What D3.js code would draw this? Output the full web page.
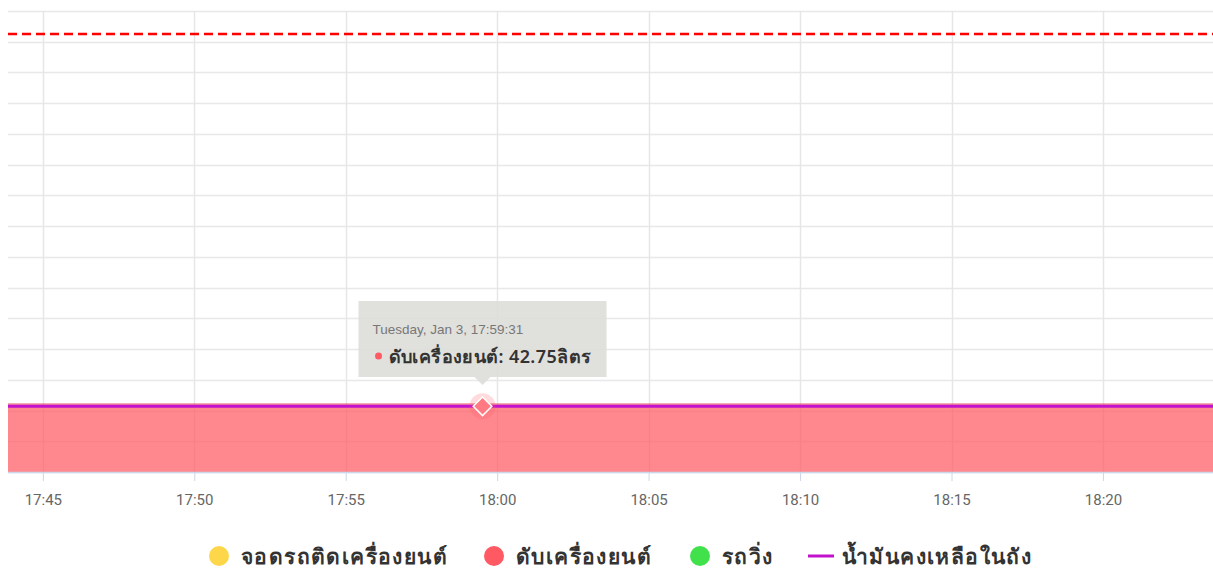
<!DOCTYPE html>
<html>
<head>
<meta charset="utf-8">
<script src="https://cdn.jsdelivr.net/npm/d3@7"></script>
<style>
  body { margin: 0; background: #fff; }
  svg { display: block; font-family: "Noto Sans", "DejaVu Sans", sans-serif; }
  .axis-x text { font-family: "Liberation Sans Narrow", "Roboto", sans-serif; font-size: 15px; fill: #666; }
</style>
</head>
<body>
<div id="chart"></div>
<script>
// data
var times = ["17:43:51", "17:59:31", "18:23:38"];
var engineOff = [42.75, 42.75, 42.75];   // ดับเครื่องยนต์ (area)
var fuelLeft = [42.75, 42.75, 42.75];    // น้ำมันคงเหลือในถัง (line)
var tankLimit = 285;
var yTicks = d3.range(0, 301, 20);
var hoverIndex = 1;
var tooltipTitle = "Tuesday, Jan 3, 17:59:31";
var tooltipText = "ดับเครื่องยนต์: 42.75ลิตร";
var legendNames = ["จอดรถติดเครื่องยนต์", "ดับเครื่องยนต์", "รถวิ่ง", "น้ำมันคงเหลือในถัง"];
var legendColors = ["#fdd64a", "#ff5a64", "#41e14c", "#c212cc"];

var W = 1213, H = 571;
var parse = d3.timeParse("%H:%M:%S");
var data = times.map(function(t, i) {
  return { t: parse(t), off: engineOff[i], fuel: fuelLeft[i] };
});

var svg = d3.select("#chart").append("svg").attr("width", W).attr("height", H);

var x = d3.scaleTime().domain(d3.extent(data, function(d) { return d.t; })).range([8, W]);
var y = d3.scaleLinear().domain([0, 300]).range([472, 11]);

// horizontal grid
svg.append("g").selectAll("line").data(yTicks).enter().append("line")
  .attr("x1", 8).attr("x2", W)
  .attr("y1", function(d) { return Math.round(y(d)) + 0.5; })
  .attr("y2", function(d) { return Math.round(y(d)) + 0.5; })
  .style("stroke", "#e8e8e8").style("stroke-width", 1.5);

// vertical grid
var xTicks = x.ticks(d3.timeMinute.every(5));
svg.append("g").selectAll("line").data(xTicks).enter().append("line")
  .attr("x1", function(d) { return Math.round(x(d)) + 0.5; })
  .attr("x2", function(d) { return Math.round(x(d)) + 0.5; })
  .attr("y1", 11).attr("y2", 472)
  .style("stroke", "#e6e6e6").style("stroke-width", 1.5);

// tank limit
svg.append("line")
  .attr("x1", 8).attr("x2", W)
  .attr("y1", y(tankLimit)).attr("y2", y(tankLimit))
  .style("stroke", "#ff0000").style("stroke-width", 2.5)
  .style("stroke-dasharray", "9,5");

// engine off area
var area = d3.area()
  .x(function(d) { return x(d.t); })
  .y0(y(0))
  .y1(function(d) { return y(d.off); });
svg.append("path").datum(data).attr("d", area)
  .style("fill", "#ff5a64").style("fill-opacity", 0.72);
svg.append("path").datum(data)
  .attr("d", d3.line().x(function(d) { return x(d.t); }).y(function(d) { return y(d.off) - 2; }))
  .style("fill", "none").style("stroke", "#e8485a").style("stroke-width", 2).style("opacity", 0.6);

// fuel line
svg.append("path").datum(data)
  .attr("d", d3.line().x(function(d) { return x(d.t); }).y(function(d) { return y(d.fuel); }))
  .style("fill", "none").style("stroke", legendColors[3]).style("stroke-width", 3);

// x axis
var xAxis = svg.append("g").attr("class", "axis-x")
  .attr("transform", "translate(0,472)")
  .call(d3.axisBottom(x).ticks(d3.timeMinute.every(5)).tickFormat(d3.timeFormat("%H:%M")).tickSize(9).tickPadding(13));
xAxis.select(".domain").attr("d", "M8,0.5H" + W).style("stroke", "#ccd6eb").style("stroke-width", 1.5);
xAxis.selectAll(".tick line").style("stroke", "#ccd6eb");

// hovered point
var hp = data[hoverIndex];
var px = x(hp.t), py = y(hp.off);
svg.append("circle").attr("cx", px).attr("cy", py).attr("r", 13)
  .style("fill", "#ff5a64").style("opacity", 0.22);
svg.append("path")
  .attr("d", d3.symbol().type(d3.symbolDiamond2).size(220)())
  .attr("transform", "translate(" + px + "," + py + ")")
  .style("fill", "#ff7a82").style("stroke", "#fff").style("stroke-width", 1.5);

// tooltip
var tip = svg.append("g").attr("transform", "translate(" + (px - 124) + ",301)");
tip.append("path")
  .attr("d", "M0,0H248V76H132L124,84L116,76H0Z")
  .style("fill", "#dcdcd8").style("fill-opacity", 0.88);
tip.append("text").attr("x", 14).attr("y", 33)
  .style("font-size", "13.5px").style("fill", "#777")
  .style("font-family", "'Liberation Sans Narrow', sans-serif")
  .text(tooltipTitle);
tip.append("circle").attr("cx", 20).attr("cy", 55).attr("r", 3.5).style("fill", "#ff5a64");
tip.append("text").attr("x", 30).attr("y", 62)
  .style("font-size", "18px").style("fill", "#333").style("font-weight", "600")
  .style("letter-spacing", "0.4px")
  .text(tooltipText);

// legend
var legendX = [219, 494, 700, 808];
var lg = svg.append("g").selectAll("g").data(legendNames).enter().append("g")
  .attr("transform", function(d, i) { return "translate(" + legendX[i] + ",556)"; });
lg.each(function(d, i) {
  var g = d3.select(this);
  if (i < 3) {
    g.append("circle").attr("cx", 0).attr("cy", 0).attr("r", 10).style("fill", legendColors[i]);
  } else {
    g.append("line").attr("x1", 0).attr("x2", 26).attr("y1", 0).attr("y2", 0)
      .style("stroke", legendColors[i]).style("stroke-width", 3);
  }
  g.append("text").attr("x", i < 3 ? 22 : 34).attr("y", 8)
    .style("font-size", "21px").style("font-weight", "bold").style("fill", "#333")
    .style("letter-spacing", "1.4px")
    .text(d);
});
</script>
</body>
</html>
